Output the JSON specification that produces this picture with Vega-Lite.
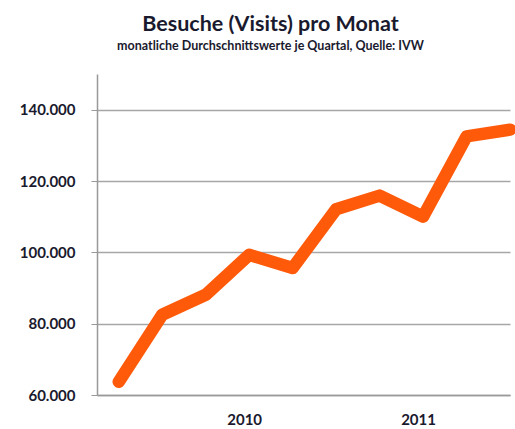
{
  "$schema": "https://vega.github.io/schema/vega-lite/v6.json",
  "autosize": "none",
  "width": 413,
  "height": 321,
  "padding": {"left": 97, "top": 74, "right": 5, "bottom": 34},
  "background": "white",
  "title": {
    "text": "Besuche (Visits) pro Monat",
    "subtitle": "monatliche Durchschnittswerte je Quartal, Quelle: IVW",
    "anchor": "middle",
    "frame": "group",
    "dx": -33,
    "offset": 22,
    "font": "Lato",
    "fontSize": 21.5,
    "fontWeight": "bold",
    "color": "#1a1a2e",
    "subtitleFont": "Lato",
    "subtitleFontSize": 12.5,
    "subtitleFontWeight": "bold",
    "subtitleColor": "#1a1a2e",
    "subtitlePadding": 4
  },
  "config": {
    "view": {"stroke": null},
    "axis": {
      "labelFont": "Lato",
      "labelFontWeight": "bold",
      "labelColor": "#1a1a2e",
      "labelFontSize": 15,
      "domainColor": "#999999",
      "tickColor": "#999999",
      "gridColor": "#a6a6a6",
      "title": null
    }
  },
  "data": {
    "values": [
      {"q": 0, "visits": 63700},
      {"q": 1, "visits": 82500},
      {"q": 2, "visits": 88100},
      {"q": 3, "visits": 99300},
      {"q": 4, "visits": 95600},
      {"q": 5, "visits": 112100},
      {"q": 6, "visits": 115900},
      {"q": 7, "visits": 110000},
      {"q": 8, "visits": 132500},
      {"q": 9, "visits": 134400}
    ]
  },
  "mark": {"type": "line", "color": "#ff5a0a", "strokeWidth": 12.5, "strokeCap": "round", "strokeJoin": "round", "clip": false},
  "encoding": {
    "x": {
      "field": "q",
      "type": "quantitative",
      "scale": {"domain": [-0.5, 9], "nice": false, "zero": false},
      "axis": {
        "values": [3, 7],
        "labelExpr": "datum.value < 5 ? '2010' : '2011'",
        "ticks": false,
        "grid": false,
        "labelPadding": 17,
        "labelOffset": -5,
        "domainWidth": 1.5
      }
    },
    "y": {
      "field": "visits",
      "type": "quantitative",
      "scale": {"domain": [60000, 150000], "nice": false, "zero": false},
      "axis": {
        "values": [60000, 80000, 100000, 120000, 140000],
        "labelExpr": "replace(format(datum.value, ','), ',', '.')",
        "tickSize": 6,
        "labelPadding": 16,
        "domainWidth": 1.5,
        "gridWidth": 1.5
      }
    }
  }
}
